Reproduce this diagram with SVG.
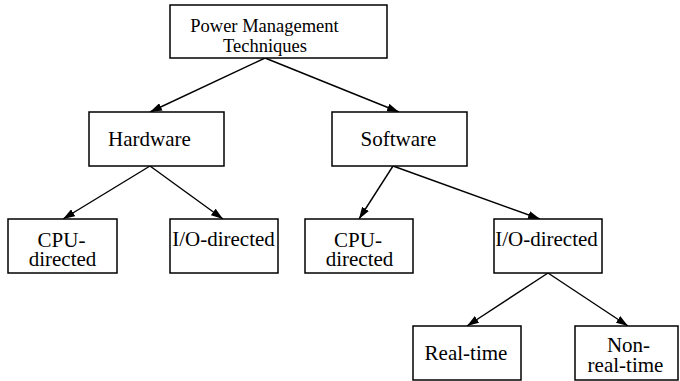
<svg xmlns="http://www.w3.org/2000/svg" width="680" height="381" viewBox="0 0 680 381">
<style>
.box{fill:#fff;stroke:#000;stroke-width:1.5}
.t{font-family:"Liberation Serif","Times New Roman",serif;font-size:21px;fill:#000;text-anchor:middle}
.ts{font-size:18.5px}
.c{stroke:#000;stroke-width:1.4;fill:none;marker-end:url(#ah)}
</style>
<defs>
<marker id="ah" markerUnits="userSpaceOnUse" markerWidth="12" markerHeight="8" refX="12" refY="4" orient="auto">
<path d="M0,0 L12,4 L0,8 Z" fill="#000"/>
</marker>
</defs>
<g id="connectors">
<line class="c" x1="265" y1="58" x2="150" y2="112"/>
<line class="c" x1="265" y1="58" x2="399" y2="112"/>
<line class="c" x1="150" y1="166" x2="63" y2="219"/>
<line class="c" x1="150" y1="166" x2="223" y2="219"/>
<line class="c" x1="393" y1="166" x2="359" y2="219"/>
<line class="c" x1="393" y1="166" x2="540" y2="219"/>
<line class="c" x1="548" y1="273" x2="467" y2="326"/>
<line class="c" x1="548" y1="273" x2="628" y2="326"/>
</g>
<g id="root">
<rect class="box" x="170" y="5" width="217" height="53"/>
<text class="t ts" x="264.5" y="32">Power Management</text>
<text class="t ts" x="265" y="52">Techniques</text>
</g>
<g id="hardware">
<rect class="box" x="89" y="112" width="135" height="54"/>
<text class="t" x="149.5" y="146">Hardware</text>
</g>
<g id="software">
<rect class="box" x="332" y="112" width="135" height="54"/>
<text class="t" x="398.5" y="146">Software</text>
</g>
<g id="hw-cpu">
<rect class="box" x="8" y="219" width="109" height="54"/>
<text class="t" x="61.5" y="247">CPU-</text>
<text class="t" x="62.5" y="266">directed</text>
</g>
<g id="hw-io">
<rect class="box" x="170" y="219" width="108" height="54"/>
<text class="t" x="223.5" y="246">I/O-directed</text>
</g>
<g id="sw-cpu">
<rect class="box" x="305" y="219" width="108" height="54"/>
<text class="t" x="358" y="247">CPU-</text>
<text class="t" x="359.5" y="266">directed</text>
</g>
<g id="sw-io">
<rect class="box" x="494" y="219" width="108" height="54"/>
<text class="t" x="546.5" y="246">I/O-directed</text>
</g>
<g id="realtime">
<rect class="box" x="413" y="326" width="108" height="54"/>
<text class="t" x="466" y="360">Real-time</text>
</g>
<g id="nonrealtime">
<rect class="box" x="575" y="326" width="103" height="54"/>
<text class="t" x="628.5" y="352">Non-</text>
<text class="t" x="625.5" y="372">real-time</text>
</g>
</svg>
